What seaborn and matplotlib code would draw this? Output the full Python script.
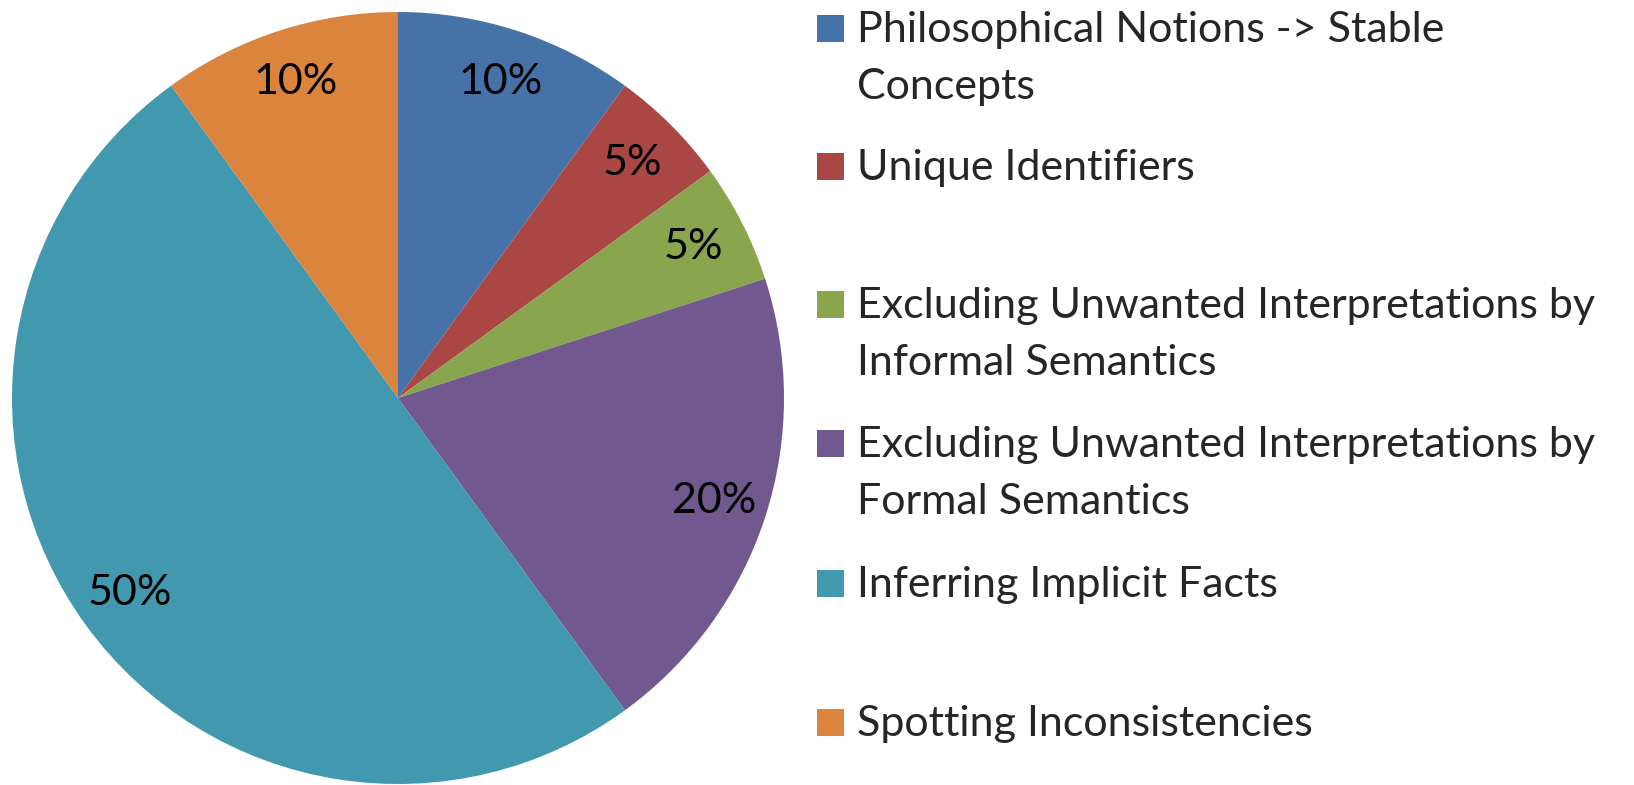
import matplotlib
matplotlib.use("Agg")
import matplotlib.pyplot as plt
from matplotlib.patches import Rectangle
import seaborn as sns

# dane wykresu
categories = [
    ["Philosophical Notions -> Stable", "Concepts"],
    ["Unique Identifiers"],
    ["Excluding Unwanted Interpretations by", "Informal Semantics"],
    ["Excluding Unwanted Interpretations by", "Formal Semantics"],
    ["Inferring Implicit Facts"],
    ["Spotting Inconsistencies"],
]
shares = [10, 5, 5, 20, 50, 10]
colors = ["#4572A7", "#AA4643", "#89A54E", "#71588F", "#4198AF", "#DB843D"]

sns.set_theme(style="white")
plt.rcParams['font.family'] = ['Lato', 'DejaVu Sans']

W, H = 1634, 785
FS = 31
fig = plt.figure(figsize=(W / 100, H / 100), dpi=100)
fig.patch.set_facecolor("white")

# os z kolem - srodek (398, 398) px, promien 386 px
cx, cy, r = 398, 398, 386
ax = fig.add_axes([(cx - r) / W, (H - cy - r) / H, 2 * r / W, 2 * r / H])
ax.pie(
    shares, colors=colors, startangle=90, counterclock=False,
    autopct="%1.0f%%", pctdistance=0.86, radius=1,
    wedgeprops=dict(linewidth=0),
    textprops=dict(fontsize=FS, color="black"),
)
ax.set_xlim(-1, 1)
ax.set_ylim(-1, 1)
ax.set_aspect("equal")
ax.axis("off")

# legenda rysowana recznie: kwadrat konczy sie na linii bazowej pierwszego wiersza
baselines = [42, 180, 318, 457, 597, 736]
line_gap = 57
sq = 27
for lines, col, yb in zip(categories, colors, baselines):
    fig.add_artist(Rectangle((817 / W, (H - yb) / H), sq / W, sq / H,
                             transform=fig.transFigure, facecolor=col, edgecolor="none"))
    for i, line in enumerate(lines):
        fig.text(857 / W, (H - yb - i * line_gap) / H, line, fontsize=FS,
                 va="baseline", ha="left", transform=fig.transFigure)

fig.savefig("out.png", dpi=100, facecolor="white")
